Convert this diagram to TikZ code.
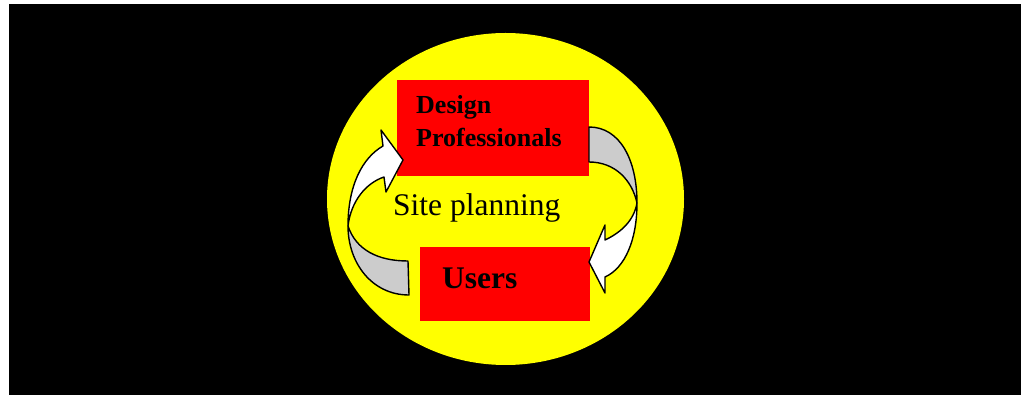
\documentclass[tikz,border=0pt]{standalone}
\usepackage{fontspec}
\setmainfont{Liberation Serif}
\usetikzlibrary{shapes.geometric}
\definecolor{arrowgray}{RGB}{204,204,204}
\definecolor{pureyellow}{RGB}{255,255,0}
\definecolor{purered}{RGB}{255,0,0}
\tikzset{
  redbox/.style={draw=none, fill=purered, rectangle, inner sep=0pt},
  lbl/.style={inner sep=0pt, anchor=base west, text=black},
  bandgray/.style={fill=arrowgray, draw=black, line width=1.4pt, line join=round},
  bandwhite/.style={fill=white, draw=black, line width=1.4pt, line join=round}
}
\begin{document}
\begin{tikzpicture}[x=1pt,y=-1pt]
\useasboundingbox (0,0) rectangle (1021,395);
\fill[black] (9,4) rectangle (1021,395);
\node[ellipse, fill=pureyellow, draw=none, minimum width=357pt, minimum height=332pt, inner sep=0pt] (circ) at (505.5,199) {};
\node[redbox, minimum width=192pt, minimum height=96pt] (dp) at (493,128) {};
\node[redbox, minimum width=170pt, minimum height=74pt] (us) at (505,284) {};
% left arrow (users -> design professionals)
\draw[bandgray] (348,226) .. controls (348,263) and (372,295) .. (409,295)
  -- (408,261) .. controls (378,261) and (356,250) .. (348,226) -- cycle;
\draw[bandwhite] (348,226) .. controls (348,186) and (362,158) .. (383,146)
  -- (381,130) -- (403,160) -- (386,192) -- (384,177)
  .. controls (366,183) and (351,201) .. (348,226) -- cycle;
% right arrow (design professionals -> users)
\draw[bandgray] (589,127) .. controls (620,127) and (637,160) .. (637,203)
  .. controls (632,180) and (615,162) .. (589,162) -- cycle;
\draw[bandwhite] (637,203) .. controls (637,240) and (625,268) .. (605,277)
  -- (605,293) -- (589,262) -- (605,225) -- (605,240)
  .. controls (622,232) and (634,220) .. (637,203) -- cycle;
% texts
\node[lbl, font=\bfseries\fontsize{26}{33}\selectfont] (t1) at (416,114) {Design};
\node[lbl, font=\bfseries\fontsize{26}{33}\selectfont] (t2) at (416,147) {Professionals};
\node[lbl, font=\bfseries\fontsize{31.5}{38}\selectfont] (t3) at (442,289) {Users};
\node[lbl, font=\fontsize{31.5}{38}\selectfont] (t4) at (393,216) {Site planning};
\end{tikzpicture}
\end{document}
